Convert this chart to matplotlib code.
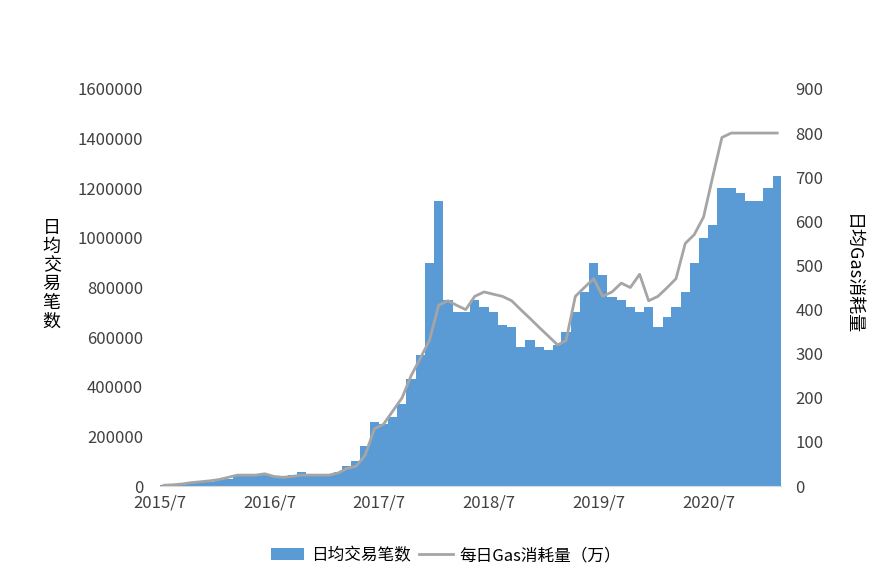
import matplotlib
matplotlib.use("Agg")
import matplotlib.pyplot as plt
from matplotlib.ticker import FuncFormatter
import pandas as pd

plt.rcParams['font.family'] = ['Noto Sans CJK SC', 'DejaVu Sans']

months = pd.date_range("2015-07-01", "2021-02-01", freq="MS") + pd.Timedelta(days=14)
tx = [5, 8, 10, 12, 15, 18,
      25, 30, 40, 40, 45, 45, 40, 40, 45, 55, 50, 45,
      45, 55, 80, 100, 160, 260, 250, 280, 330, 430, 530, 900,
      1150, 750, 700, 700, 750, 720, 700, 650, 640, 560, 590, 560,
      550, 570, 620, 700, 780, 900, 850, 760, 750, 720, 700, 720,
      640, 680, 720, 780, 900, 1000, 1050, 1200, 1200, 1180, 1150, 1150,
      1200, 1250]
gas = [2, 3, 5, 8, 10, 12,
       15, 20, 25, 25, 25, 28, 22, 20, 22, 25, 25, 25,
       25, 30, 40, 45, 70, 130, 140, 170, 200, 250, 290, 330,
       410, 420, 410, 400, 430, 440, 435, 430, 420, 400, 380, 360,
       340, 320, 330, 430, 450, 470, 430, 440, 460, 450, 480, 420,
       430, 450, 470, 550, 570, 610, 700, 790, 800, 800, 800, 800,
       800, 800]
tx = [v * 1000 for v in tx]
n = min(len(months), len(tx), len(gas))
months, tx, gas = months[:n], tx[:n], gas[:n]

fig = plt.figure(figsize=(8.92, 5.85), dpi=100)
ax = fig.add_axes([0.179, 0.169, 0.697, 0.679])
ax.bar(months, tx, width=31, color='#5b9bd5', label='日均交易笔数', align='center')
ax.set_ylim(0, 1600000)
ax.set_yticks(range(0, 1600001, 200000))
ax.yaxis.set_major_formatter(FuncFormatter(lambda v, p: f"{int(v)}"))
ax.set_xlim(pd.Timestamp("2015-07-01"), pd.Timestamp("2021-03-01"))
ticks = pd.to_datetime(["2015-07-01", "2016-07-01", "2017-07-01", "2018-07-01", "2019-07-01", "2020-07-01"])
ax.set_xticks(ticks)
ax.set_xticklabels(["2015/7", "2016/7", "2017/7", "2018/7", "2019/7", "2020/7"])
ax2 = ax.twinx()
ax2.plot(months, gas, color='#a5a5a5', lw=2, label='每日Gas消耗量（万）')
ax2.set_ylim(0, 900)
ax2.set_yticks(range(0, 901, 100))
for a in (ax, ax2):
    for s in a.spines.values():
        s.set_visible(False)
    a.tick_params(length=0, labelsize=12, colors='#404040')
ax.spines['bottom'].set_visible(True)
ax.spines['bottom'].set_color('#d9d9d9')
ax.tick_params(axis='x', pad=6)
ax.tick_params(axis='y', pad=12)
ax2.tick_params(axis='y', pad=10)
fig.text(0.058, 0.53, "日\n均\n交\n易\n笔\n数", fontsize=13, ha='center', va='center', linespacing=1.05)
fig.text(0.955, 0.53, "日均Gas消耗量", fontsize=13, ha='center', va='center', rotation=-90)
h1, l1 = ax.get_legend_handles_labels()
h2, l2 = ax2.get_legend_handles_labels()
fig.legend(h1 + h2, l1 + l2, loc='lower center', bbox_to_anchor=(0.5, 0.01), ncol=2, frameon=False, fontsize=12, columnspacing=0.5, handletextpad=0.4)
fig.savefig("out.png", dpi=100)
